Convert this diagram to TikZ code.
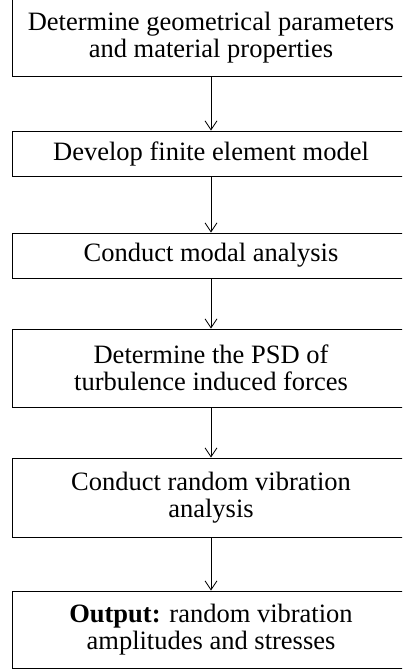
\documentclass[tikz,border=0pt]{standalone}
\usepackage{fontspec}
\setmainfont{Liberation Serif}
\usetikzlibrary{arrows.meta}
\begin{document}
\begin{tikzpicture}[x=1pt,y=-1pt,
  stepbox/.style={draw=black,line width=0.9pt,rectangle,inner sep=0pt,align=center,
    minimum width=398pt,font=\fontsize{26.5}{27}\selectfont},
  flow/.style={draw=black,line width=0.8pt,-{Straight Barb[length=9pt,width=12pt,line width=0.8pt]}}]
\useasboundingbox (0,0) rectangle (402,672);
\clip (0,0) rectangle (402,672);
\node[stepbox,minimum height=77pt] (b1) at (211,37.5) {Determine geometrical parameters\\and material properties};
\node[stepbox,minimum height=45pt] (b2) at (211,153.5) {Develop finite element model};
\node[stepbox,minimum height=45pt] (b3) at (211,255.5) {Conduct modal analysis};
\node[stepbox,minimum height=78pt] (b4) at (211,368) {Determine the PSD of\\turbulence induced forces};
\node[stepbox,minimum height=79pt] (b5) at (211,497.5) {Conduct random vibration\\analysis};
\node[stepbox,minimum height=77pt] (b6) at (211,629.5) {\textbf{Output:} random vibration\\amplitudes and stresses};
\draw[flow] (b1) -- (b2);
\draw[flow] (b2) -- (b3);
\draw[flow] (b3) -- (b4);
\draw[flow] (b4) -- (b5);
\draw[flow] (b5) -- (b6);
\end{tikzpicture}
\end{document}
